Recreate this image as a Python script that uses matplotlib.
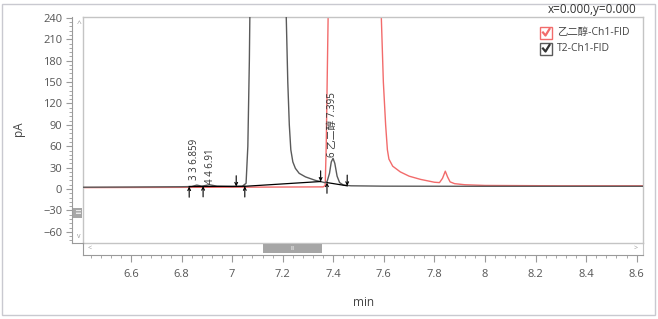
import matplotlib
matplotlib.use('Agg')
import matplotlib.pyplot as plt
from matplotlib.patches import Rectangle
from matplotlib.lines import Line2D
from matplotlib.ticker import MultipleLocator, FuncFormatter

plt.rcParams['font.family'] = ['Open Sans', 'Noto Sans CJK SC', 'DejaVu Sans']

# ---- data ----
t2_time = [6.41, 6.60, 6.80, 6.84, 6.86, 6.88, 6.91, 6.94, 7.00, 7.04, 7.055, 7.062,
           7.068, 7.075, 7.14, 7.205, 7.214, 7.220, 7.226, 7.232, 7.240, 7.250,
           7.265, 7.29, 7.31, 7.33, 7.35, 7.365, 7.375, 7.385, 7.392, 7.399, 7.406,
           7.415, 7.425, 7.44, 7.47, 7.60, 8.00, 8.63]
t2_signal = [2.5, 2.8, 3.2, 3.5, 5.5, 4.0, 6.0, 4.0, 3.5, 3.8, 8, 60,
             180, 400, 1200, 400, 240, 150, 90, 55, 38, 29,
             22, 17, 14.5, 12, 10.5, 9, 10, 22, 38, 43, 36,
             18, 9, 5.5, 4.5, 4.0, 3.8, 3.8]

eg_time = [6.41, 7.00, 7.36, 7.368, 7.372, 7.377, 7.382, 7.48, 7.585, 7.590, 7.598,
           7.607, 7.614, 7.620, 7.635, 7.665, 7.70, 7.745, 7.80, 7.82, 7.832,
           7.843, 7.852, 7.862, 7.88, 7.92, 8.00, 8.30, 8.63]
eg_signal = [2.0, 2.5, 3.0, 5, 60, 180, 300, 2000, 300, 240, 150,
             90, 55, 42, 32, 24, 18, 13.5, 9.5, 9, 15,
             25, 17, 10, 7.5, 6, 5, 4.5, 4.5]

# integration events: (time, level, 'up' from below / 'down' from above)
event_time = [6.83, 6.885, 7.016, 7.05, 7.35, 7.375, 7.455]
event_level = [3.5, 4.0, 3.6, 3.8, 10.5, 9.0, 4.5]
event_dir = ['up', 'up', 'down', 'up', 'down', 'up', 'down']

# integration baselines
base_segments = [([6.83, 7.05], [3.5, 3.8]),
                 ([7.05, 7.35], [3.8, 10.5]),
                 ([7.375, 7.455], [9.0, 4.5])]

peak_labels = ['3 3 6.859', '4 4 6.91', '6 乙二醇 7.395']
peak_x = [6.853, 6.913, 7.396]
peak_y = [13, 7, 45]

series_names = ['乙二醇-Ch1-FID', 'T2-Ch1-FID']
series_colors = ['#f26b6b', '#5a5a5a']

XLIM = (6.41, 8.625)
YLIM = (-75.7, 241.2)

W, H = 658, 319
def fx(px):
    return px / W
def fy(py):
    return 1 - py / H

fig = plt.figure(figsize=(W / 100, H / 100), dpi=100)
fig.patch.set_facecolor('white')

# outer panel border
fig.add_artist(Rectangle((fx(2), fy(315)), 653 / W, 311 / H, transform=fig.transFigure,
                         fill=False, ec='#c9c9d0', lw=1))

frame_c = '#c4c4c4'
axis_c = '#9a9a9a'
label_c = '#555555'

ax = fig.add_axes([fx(83), fy(243), 560 / W, 226 / H])
ax.plot(t2_time, t2_signal, color=series_colors[1], lw=1.0, zorder=3)
ax.plot(eg_time, eg_signal, color=series_colors[0], lw=1.0, zorder=2)
for xs, ys in base_segments:
    ax.plot(xs, ys, color='black', lw=0.9, zorder=4)
for t, lv, d in zip(event_time, event_level, event_dir):
    start = lv - 15 if d == 'up' else lv + 15
    ax.annotate('', xy=(t, lv), xytext=(t, start),
                arrowprops=dict(arrowstyle='->', lw=0.8, color='black',
                                mutation_scale=5, shrinkA=0, shrinkB=0), zorder=5)
for lab, x, y in zip(peak_labels, peak_x, peak_y):
    ax.text(x, y, lab, rotation=90, ha='center', va='bottom', fontsize=7, color='#333333')

ax.set_xlim(*XLIM)
ax.set_ylim(*YLIM)
ax.set_xticks([])
ax.set_yticks([])
for s in ax.spines.values():
    s.set_color(frame_c)
    s.set_linewidth(1)

# y axis drawn offset to the left
ax_y = fig.add_axes([fx(72), fy(243), 11 / W, 226 / H])
ax_y.patch.set_visible(False)
ax_y.spines['right'].set_visible(False)
ax_y.spines['top'].set_visible(False)
ax_y.spines['left'].set_color(axis_c)
ax_y.spines['bottom'].set_color(axis_c)
ax_y.set_ylim(*YLIM)
ax_y.yaxis.set_major_locator(MultipleLocator(30))
ax_y.yaxis.set_minor_locator(MultipleLocator(6))
ax_y.tick_params(axis='y', which='major', length=4, color=axis_c, labelsize=8,
                 labelcolor=label_c, pad=3)
ax_y.tick_params(axis='y', which='minor', length=2, color=axis_c)
ax_y.set_xticks([])

# x axis drawn below the scroll strip
ax_x = fig.add_axes([fx(83), fy(255), 560 / W, 12 / H])
ax_x.patch.set_visible(False)
ax_x.spines['top'].set_visible(False)
ax_x.spines['right'].set_color(frame_c)
ax_x.spines['left'].set_color(axis_c)
ax_x.spines['bottom'].set_color(axis_c)
ax_x.set_xlim(*XLIM)
ax_x.xaxis.set_major_locator(MultipleLocator(0.2))
ax_x.xaxis.set_minor_locator(MultipleLocator(0.04))
ax_x.xaxis.set_major_formatter(FuncFormatter(lambda v, p: f'{v:g}'))
ax_x.tick_params(axis='x', which='major', length=5, color=axis_c, labelsize=8,
                 labelcolor=label_c, pad=5)
ax_x.tick_params(axis='x', which='minor', length=2, color=axis_c)
ax_x.set_yticks([])

# scrollbar chrome
fig.add_artist(Rectangle((fx(263), fy(253)), 59 / W, 9 / H, transform=fig.transFigure,
                         color='#a6a6a6', lw=0))
fig.text(fx(292.5), fy(248.5), 'III', fontsize=3.5, color='white', ha='center', va='center')
fig.add_artist(Rectangle((fx(73), fy(218)), 9 / W, 10 / H, transform=fig.transFigure,
                         color='#a6a6a6', lw=0))
fig.text(fx(77.5), fy(213), '≡', fontsize=5, color='white', ha='center', va='center')
fig.text(fx(79), fy(24), '^', fontsize=6, color='#999999', ha='center', va='center')
fig.text(fx(79), fy(236), 'v', fontsize=5, color='#999999', ha='center', va='center')
fig.text(fx(90), fy(248.5), '<', fontsize=5, color='#999999', ha='center', va='center')
fig.text(fx(636), fy(248.5), '>', fontsize=5, color='#999999', ha='center', va='center')

# axis titles
fig.text(fx(18), fy(129), 'pA', rotation=90, fontsize=8.5, color='#444444',
         ha='center', va='center')
fig.text(fx(364), fy(303), 'min', fontsize=8.5, color='#444444', ha='center', va='center')

# cursor readout
fig.text(fx(637), fy(10), 'x=0.000,y=0.000', fontsize=8.5, color='#333333',
         ha='right', va='center')

# legend with check boxes
for i, (name, col) in enumerate(zip(series_names, series_colors)):
    cy = 32.5 + 16 * i
    fig.add_artist(Rectangle((fx(540), fy(cy + 6)), 12 / W, 12 / H,
                             transform=fig.transFigure, fill=False, ec=col, lw=1))
    fig.add_artist(Line2D([fx(543), fx(545.5), fx(549.5)],
                          [fy(cy), fy(cy + 3), fy(cy - 3.5)],
                          transform=fig.transFigure, color=col if i == 0 else '#333333',
                          lw=1.6))
    fig.text(fx(557), fy(cy), name, fontsize=7.5, color='#444444', ha='left', va='center')

fig.savefig('out.png', dpi=100)
